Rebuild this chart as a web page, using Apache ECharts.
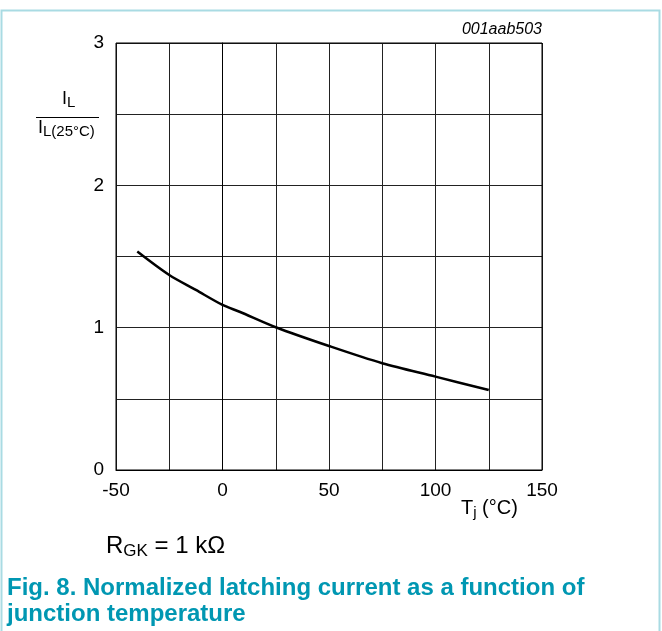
<!DOCTYPE html>
<html>
<head>
<meta charset="utf-8">
<script src="https://cdn.jsdelivr.net/npm/echarts@6/dist/echarts.min.js"></script>
<style>
html,body{margin:0;padding:0;background:#fff;}
#c{width:662px;height:631px;}
</style>
</head>
<body>
<div id="c"></div>
<script>
const temperature = [-40, -25, -12.5, 0, 8, 25, 50, 75, 100, 125];
const ratio = [1.535, 1.37, 1.265, 1.16, 1.112, 1.003, 0.871, 0.75, 0.656, 0.562];
const xTicks = [-50, 0, 50, 100, 150];
const yTicks = [0, 1, 2, 3];

const FONT = '"Liberation Sans", Arial, sans-serif';
const chart = echarts.init(document.getElementById('c'), null, {renderer: 'canvas'});
chart.setOption({
  animation: false,
  backgroundColor: '#fff',
  grid: {left: 116, top: 43, width: 426, height: 427, containLabel: false},
  xAxis: {
    type: 'value', min: -50, max: 150, interval: 25,
    axisLine: {show: true, lineStyle: {color: '#000', width: 1}},
    axisTick: {show: false},
    splitLine: {show: true, lineStyle: {color: '#222', width: 1}},
    axisLabel: {
      color: '#000', fontFamily: FONT, fontSize: 19, margin: 11,
      formatter: v => xTicks.includes(v) ? String(v) : ''
    }
  },
  yAxis: {
    type: 'value', min: 0, max: 3, interval: 0.5,
    axisLine: {show: true, lineStyle: {color: '#000', width: 1}},
    axisTick: {show: false},
    splitLine: {show: true, lineStyle: {color: '#222', width: 1}},
    axisLabel: {
      color: '#000', fontFamily: FONT, fontSize: 19, margin: 12,
      formatter: v => yTicks.includes(v) ? String(v) : ''
    }
  },
  series: [{
    type: 'line',
    data: temperature.map((t, i) => [t, ratio[i]]),
    smooth: 0.3,
    showSymbol: false,
    lineStyle: {color: '#000', width: 2.5}
  }],
  graphic: [
    {type: 'rect', shape: {x: 1.5, y: 10.5, width: 658, height: 640}, style: {fill: 'none', stroke: '#a9dbe3', lineWidth: 2}, silent: true},
    {type: 'rect', shape: {x: 116, y: 43, width: 426, height: 427}, style: {fill: 'none', stroke: '#000', lineWidth: 1}, silent: true, z: 10},
    {type: 'text', right: 120, top: 22, style: {text: '001aab503', font: 'italic 16px ' + FONT, fill: '#000'}},
    {type: 'text', left: 62, top: 90, style: {
      text: '{m|I}{s|L}', rich: {m: {fontSize: 18, fontFamily: FONT, fill: '#000'}, s: {fontSize: 15, fontFamily: FONT, fill: '#000', padding: [8,0,0,0]}}
    }},
    {type: 'line', shape: {x1: 36, y1: 117.5, x2: 99, y2: 117.5}, style: {stroke: '#000', lineWidth: 1}},
    {type: 'text', left: 38, top: 119, style: {
      text: '{m|I}{s|L(25°C)}', rich: {m: {fontSize: 18, fontFamily: FONT, fill: '#000'}, s: {fontSize: 15, fontFamily: FONT, fill: '#000', padding: [8,0,0,0]}}
    }},
    {type: 'text', left: 461, top: 498, style: {
      text: '{m|T}{s|j}{m| (°C)}', rich: {m: {fontSize: 20, fontFamily: FONT, fill: '#000'}, s: {fontSize: 15, fontFamily: FONT, fill: '#000', padding: [10,0,0,0]}}
    }},
    {type: 'text', left: 106, top: 534, style: {
      text: '{m|R}{s|GK}{m| = 1 kΩ}', rich: {m: {fontSize: 24, fontFamily: FONT, fill: '#000'}, s: {fontSize: 17, fontFamily: FONT, fill: '#000', padding: [11,0,0,0]}}
    }},
    {type: 'text', left: 7, top: 575, style: {
      text: 'Fig. 8. Normalized latching current as a function of\njunction temperature',
      font: 'bold 24px ' + FONT, fill: '#0097b2', lineHeight: 26
    }}
  ]
});
</script>
</body>
</html>
